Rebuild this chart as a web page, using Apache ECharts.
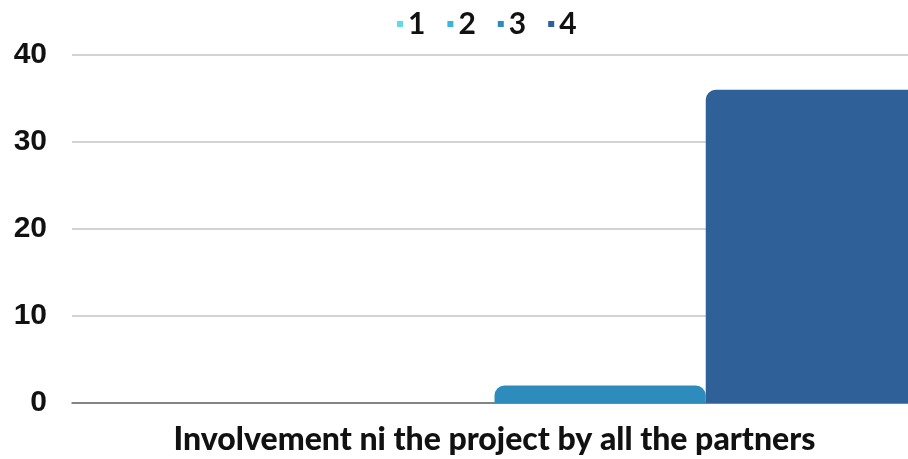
<!DOCTYPE html>
<html>
<head>
<meta charset="utf-8">
<script src="https://cdn.jsdelivr.net/npm/echarts@6/dist/echarts.min.js"></script>
<style>
  html, body { margin: 0; padding: 0; background: #fff; }
  #chart { width: 908px; height: 459px; }
</style>
</head>
<body>
<div id="chart"></div>
<script>
var categories = ['Involvement ni the project by all the partners'];
var seriesNames = ['1', '2', '3', '4'];
var values1 = [0];
var values2 = [0];
var values3 = [2];
var values4 = [36];
var yTicks = [0, 10, 20, 30, 40];

var colors = ['#62dbe8', '#3db4da', '#2e8cbd', '#2f6098'];
var allValues = [values1, values2, values3, values4];

var chart = echarts.init(document.getElementById('chart'));

var option = {
  animation: false,
  color: colors,
  legend: {
    top: 4,
    left: 392,
    icon: 'rect',
    itemWidth: 6,
    itemHeight: 6,
    itemGap: 22,
    textStyle: { fontSize: 30, fontWeight: 'bold', color: '#111', fontFamily: 'Lato' },
    data: seriesNames
  },
  grid: { left: 72, right: -9, top: 55, bottom: 56, outerBoundsMode: 'none' },
  xAxis: {
    type: 'category',
    data: categories,
    axisTick: { show: false },
    axisLine: { lineStyle: { color: '#6b6b6b', width: 1.5 } },
    axisLabel: { fontSize: 32, fontWeight: 900, color: '#111', margin: 21, fontFamily: 'Lato' }
  },
  yAxis: {
    type: 'value',
    min: yTicks[0],
    max: yTicks[yTicks.length - 1],
    interval: 10,
    axisLabel: { fontSize: 30, fontWeight: 'bold', color: '#111', margin: 25, fontFamily: 'Liberation Sans' },
    splitLine: { lineStyle: { color: '#c4c4c4', width: 1.5 } }
  },
  series: seriesNames.map(function (name, i) {
    return {
      name: name,
      type: 'bar',
      data: allValues[i],
      barGap: '0%',
      barCategoryGap: '0%',
      itemStyle: { borderRadius: [10, 10, 0, 0] }
    };
  })
};

chart.setOption(option);
</script>
</body>
</html>
